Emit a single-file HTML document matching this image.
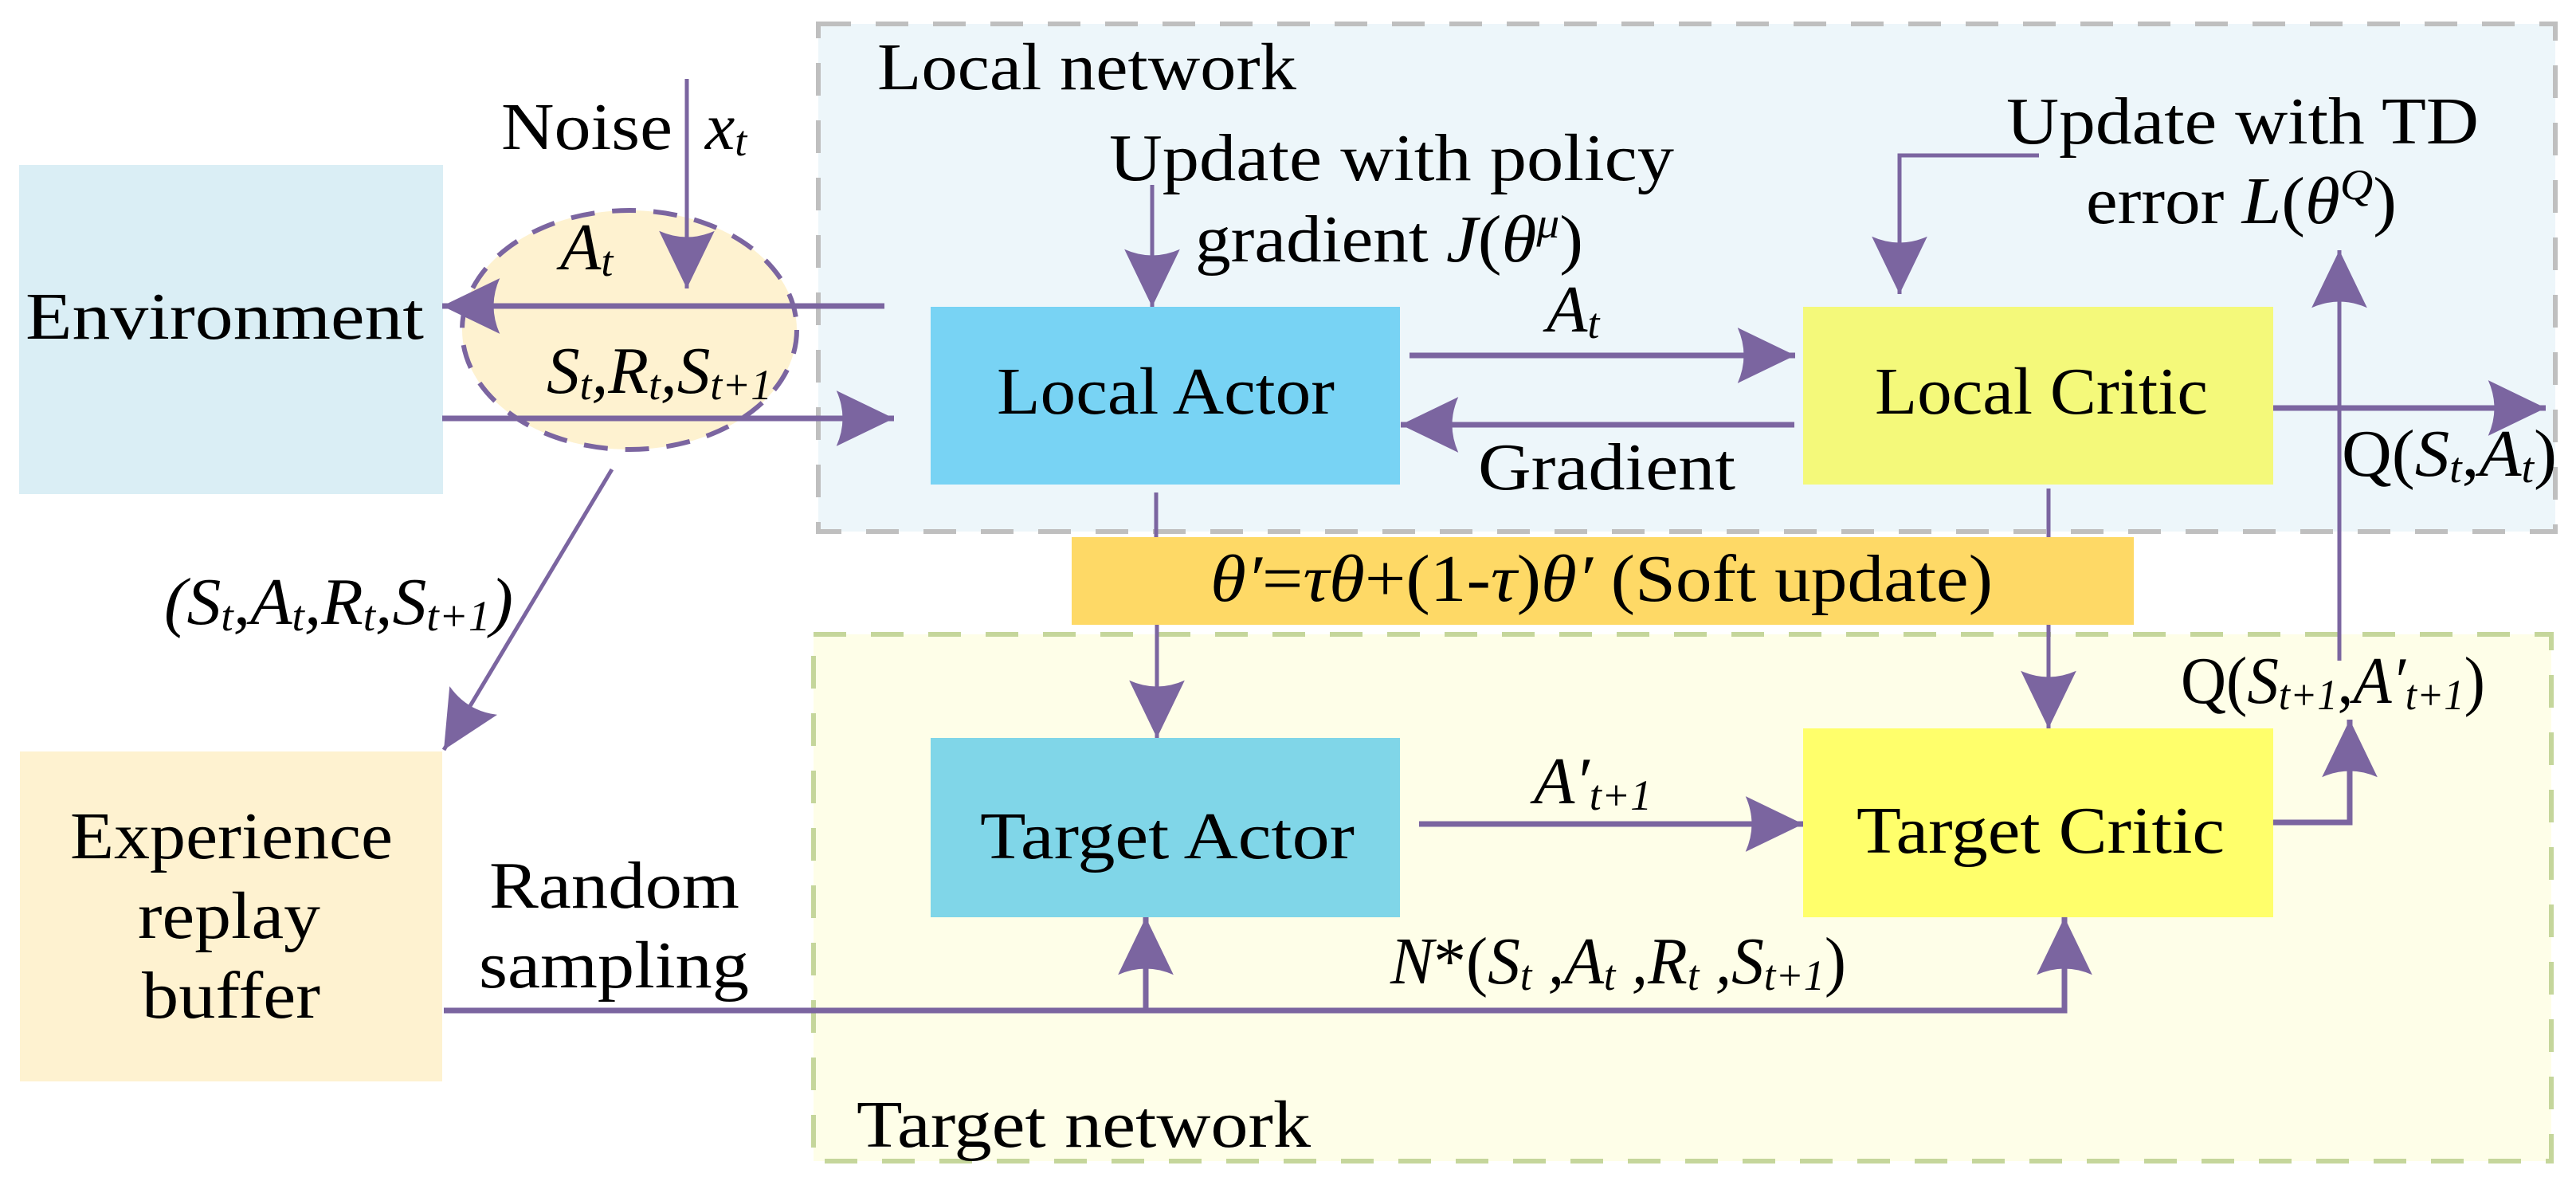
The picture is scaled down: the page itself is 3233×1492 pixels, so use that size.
<!DOCTYPE html>
<html><head><meta charset="utf-8"><style>
html,body{margin:0;padding:0;background:#fff;}
svg{display:block;}
text{font-family:"Liberation Serif",serif;font-size:84px;fill:#000;}
.i{font-style:italic;}
.s{font-size:54px;font-style:italic;}
</style></head><body>
<svg width="3233" height="1492" viewBox="0 0 3233 1492" xmlns="http://www.w3.org/2000/svg">
<defs>
<marker id="ah" markerUnits="userSpaceOnUse" markerWidth="80" markerHeight="80" viewBox="-60 -30 62 60" refX="0" refY="0" orient="auto">
<path d="M0,0 L-56,-27 Q-44,0 -56,27 Z" fill="#7B65A0"/>
</marker>
</defs>
<rect x="1027" y="30" width="2180" height="637" fill="#EDF6FA" stroke="#BFBFBF" stroke-width="6" stroke-dasharray="41 31"/>
<rect x="1021" y="796" width="2181" height="661" fill="#FEFEE8" stroke="#C5D69B" stroke-width="6" stroke-dasharray="41 31"/>
<rect x="24" y="207" width="532" height="413" fill="#DAEEF5"/>
<rect x="25" y="943" width="530" height="414" fill="#FEF2D0"/>
<ellipse cx="790" cy="414" rx="210" ry="150" fill="#FEF2D0" stroke="#7B65A0" stroke-width="6" stroke-dasharray="30 22"/>
<rect x="1168" y="385" width="589" height="223" fill="#78D3F4"/>
<rect x="2263" y="385" width="590" height="223" fill="#F4F97A"/>
<rect x="1168" y="926" width="589" height="225" fill="#80D6E8"/>
<rect x="2263" y="914" width="590" height="237" fill="#FFFF6B"/>
<rect x="1345" y="674" width="1333" height="110" fill="#FED966"/>
<g stroke="#7B65A0" fill="none" stroke-width="7">
<line x1="1110" y1="384" x2="555" y2="384" marker-end="url(#ah)"/>
<line x1="555" y1="525" x2="1122" y2="525" marker-end="url(#ah)"/>
<line x1="1769" y1="446" x2="2253" y2="446" marker-end="url(#ah)"/>
<line x1="2252" y1="533" x2="1758" y2="533" marker-end="url(#ah)"/>
<line x1="2853" y1="512" x2="3195" y2="512" marker-end="url(#ah)"/>
<line x1="1781" y1="1034" x2="2263" y2="1034" marker-end="url(#ah)"/>
<polyline points="557,1268 2591,1268 2591,1151" marker-end="url(#ah)"/>
<line x1="1438" y1="1268" x2="1438" y2="1151" marker-end="url(#ah)"/>
<polyline points="2853,1032 2949,1032 2949,903" marker-end="url(#ah)"/>
</g>
<g stroke="#7B65A0" fill="none" stroke-width="5">
<line x1="862" y1="99" x2="862" y2="362" marker-end="url(#ah)"/>
<line x1="1446" y1="232" x2="1446" y2="385" marker-end="url(#ah)"/>
<line x1="768" y1="589" x2="557" y2="941" marker-end="url(#ah)"/>
<line x1="1451" y1="618" x2="1451" y2="674"/>
<line x1="1452" y1="784" x2="1452" y2="926" marker-end="url(#ah)"/>
<line x1="2571" y1="613" x2="2571" y2="674"/>
<line x1="2571" y1="784" x2="2571" y2="914" marker-end="url(#ah)"/>
<polyline points="2559,195 2384,195 2384,369" marker-end="url(#ah)"/>
<line x1="2936" y1="829" x2="2936" y2="314" marker-end="url(#ah)"/>
</g>
<text x="1101" y="112" textLength="526" lengthAdjust="spacingAndGlyphs">Local network</text>
<text x="629" y="187" textLength="215" lengthAdjust="spacingAndGlyphs">Noise</text>
<text x="885" y="187" class="i">x<tspan class="s" dy="8">t</tspan></text>
<text x="32" y="425" textLength="500" lengthAdjust="spacingAndGlyphs">Environment</text>
<text x="703" y="338" class="i">A<tspan class="s" dy="8">t</tspan></text>
<text x="686" y="493" class="i" textLength="283" lengthAdjust="spacingAndGlyphs">S<tspan class="s" dy="8">t</tspan><tspan dy="-8">,R</tspan><tspan class="s" dy="8">t</tspan><tspan dy="-8">,S</tspan><tspan class="s" dy="8">t+1</tspan></text>
<text x="1392" y="226" textLength="709" lengthAdjust="spacingAndGlyphs">Update with policy</text>
<text x="1500" y="328" textLength="487" lengthAdjust="spacingAndGlyphs">gradient <tspan class="i">J</tspan>(<tspan class="i">θ</tspan><tspan class="s" dy="-30">μ</tspan><tspan dy="30">)</tspan></text>
<text x="2518" y="180" textLength="593" lengthAdjust="spacingAndGlyphs">Update with TD</text>
<text x="2618" y="280" textLength="390" lengthAdjust="spacingAndGlyphs">error <tspan class="i">L</tspan>(<tspan class="i">θ</tspan><tspan class="s" dy="-30">Q</tspan><tspan dy="30">)</tspan></text>
<text x="1251" y="519" textLength="424" lengthAdjust="spacingAndGlyphs">Local Actor</text>
<text x="2353" y="519" textLength="418" lengthAdjust="spacingAndGlyphs">Local Critic</text>
<text x="1941" y="416" class="i">A<tspan class="s" dy="8">t</tspan></text>
<text x="1855" y="614" textLength="323" lengthAdjust="spacingAndGlyphs">Gradient</text>
<text x="2939" y="597" textLength="270" lengthAdjust="spacingAndGlyphs">Q(<tspan class="i">S</tspan><tspan class="s" dy="8">t</tspan><tspan dy="-8">,</tspan><tspan class="i">A</tspan><tspan class="s" dy="8">t</tspan><tspan dy="-8">)</tspan></text>
<text x="1519" y="754" class="i" textLength="982" lengthAdjust="spacingAndGlyphs">θ′<tspan font-style="normal">=</tspan>τθ<tspan font-style="normal">+(1-</tspan>τ<tspan font-style="normal">)</tspan>θ′<tspan font-style="normal"> (Soft update)</tspan></text>
<text x="206" y="783" class="i" textLength="438" lengthAdjust="spacingAndGlyphs">(S<tspan class="s" dy="8">t</tspan><tspan dy="-8">,A</tspan><tspan class="s" dy="8">t</tspan><tspan dy="-8">,R</tspan><tspan class="s" dy="8">t</tspan><tspan dy="-8">,S</tspan><tspan class="s" dy="8">t+1</tspan><tspan dy="-8">)</tspan></text>
<text x="2737" y="882" textLength="382" lengthAdjust="spacingAndGlyphs">Q(<tspan class="i">S</tspan><tspan class="s" dy="8">t+1</tspan><tspan dy="-8">,</tspan><tspan class="i">A′</tspan><tspan class="s" dy="8">t+1</tspan><tspan dy="-8">)</tspan></text>
<text x="1925" y="1008" class="i">A′<tspan class="s" dy="8">t+1</tspan></text>
<text x="1230" y="1077" textLength="470" lengthAdjust="spacingAndGlyphs">Target Actor</text>
<text x="2330" y="1070" textLength="462" lengthAdjust="spacingAndGlyphs">Target Critic</text>
<text x="88" y="1077" textLength="405" lengthAdjust="spacingAndGlyphs">Experience</text>
<text x="173" y="1177" textLength="229" lengthAdjust="spacingAndGlyphs">replay</text>
<text x="178" y="1277" textLength="224" lengthAdjust="spacingAndGlyphs">buffer</text>
<text x="614" y="1139" textLength="314" lengthAdjust="spacingAndGlyphs">Random</text>
<text x="601" y="1239" textLength="339" lengthAdjust="spacingAndGlyphs">sampling</text>
<text x="1745" y="1234" class="i" textLength="572" lengthAdjust="spacingAndGlyphs">N<tspan font-style="normal">*(</tspan>S<tspan class="s" dy="8">t</tspan><tspan dy="-8"> ,A</tspan><tspan class="s" dy="8">t</tspan><tspan dy="-8"> ,R</tspan><tspan class="s" dy="8">t</tspan><tspan dy="-8"> ,S</tspan><tspan class="s" dy="8">t+1</tspan><tspan dy="-8" font-style="normal">)</tspan></text>
<text x="1075" y="1439" textLength="570" lengthAdjust="spacingAndGlyphs">Target network</text>
</svg>
</body></html>
